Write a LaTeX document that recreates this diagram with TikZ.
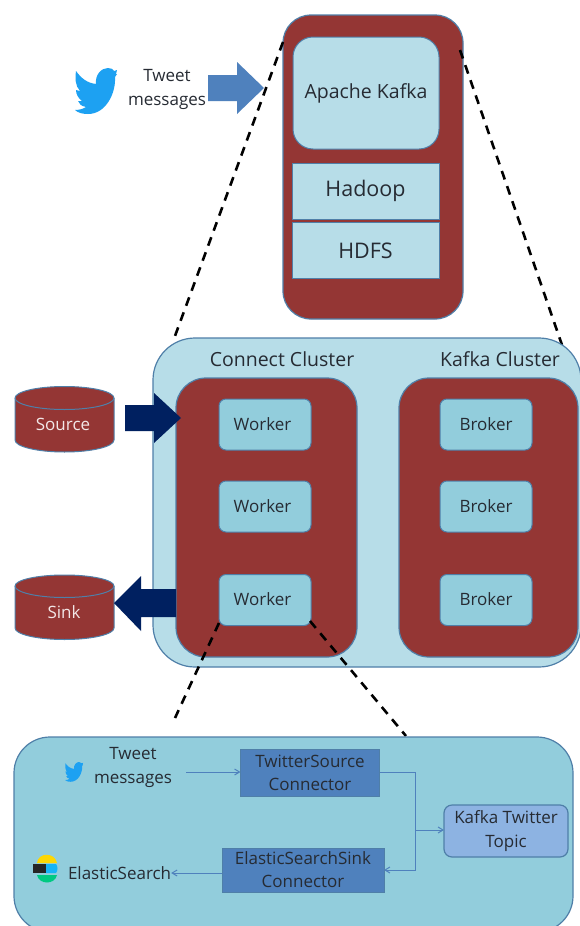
\documentclass[tikz,border=0pt]{standalone}
\usepackage{fontspec}
\setmainfont{Open Sans}
\usetikzlibrary{shapes.geometric,arrows.meta}
\definecolor{brick}{HTML}{943634}
\definecolor{edgeblue}{HTML}{4F7FA8}
\definecolor{paleblue}{HTML}{B7DDE8}
\definecolor{midblue}{HTML}{92CDDC}
\definecolor{steel}{HTML}{4F81BD}
\definecolor{navy}{HTML}{002060}
\definecolor{topicblue}{HTML}{8DB3E2}
\definecolor{twblue}{HTML}{1DA1F2}
\definecolor{txt}{HTML}{262B33}
\tikzset{
  x=1pt,y=-1pt,
  every node/.style={inner sep=0pt,outer sep=0pt,text=txt,align=center},
  panel/.style={draw=edgeblue,line width=1.2pt,rounded corners=#1},
  panel/.default=30pt,
  unitbox/.style={draw=edgeblue,line width=1pt,fill=midblue,rounded corners=7pt,minimum width=92pt,minimum height=51pt,font=\fontsize{17}{18}\selectfont},
  stackbox/.style={draw=edgeblue,line width=1pt,fill=paleblue,minimum width=147pt,minimum height=56pt,font=\fontsize{21.5}{24}\selectfont},
  connbox/.style={draw=edgeblue,line width=1pt,fill=steel,font=\fontsize{17}{23}\selectfont},
  zoomline/.style={draw=black,line width=2.6pt,dash pattern=on 9pt off 7pt},
  thinflow/.style={draw=steel,line width=1pt,-{Straight Barb[length=5pt,width=6pt]}},
  labeltext/.style={font=\fontsize{17}{24}\selectfont},
  headtext/.style={font=\fontsize{19.5}{22}\selectfont},
  drum/.style={draw=edgeblue,line width=1pt,fill=brick},
  drumtext/.style={font=\fontsize{17}{18}\selectfont,text=white!88!brick},
}
\newcommand{\birdshape}[3]{%
  \fill[twblue,shift={(#1,#2)},scale=#3]
    (1,3) .. controls (6,10) and (12,15) .. (21,16) .. controls (20,7) and (26,0) .. (33,0)
    .. controls (36,0) and (38,1) .. (39,3) -- (42,2) -- (41,6) -- (42,6) -- (40,9)
    .. controls (41,25) and (31,46) .. (13,46) .. controls (8,46) and (3,45) .. (0,42)
    .. controls (4,42) and (8,41) .. (11,39) .. controls (6,38) and (4,36) .. (3,33)
    -- (7,33) .. controls (3,30) and (1,26) .. (1,22) -- (5,23) .. controls (0,18) and (0,9) .. (1,3) -- cycle;
}
\begin{document}
\begin{tikzpicture}
\useasboundingbox (0,0) rectangle (580,926);
\fill[white] (0,0) rectangle (580,926);

% top stack
\draw[panel=28pt,fill=brick] (283,15) rectangle (463,319);
\node[draw=edgeblue,line width=1pt,fill=paleblue,rounded corners=20pt,minimum width=146pt,minimum height=112pt,font=\fontsize{19.5}{22}\selectfont] (kafka) at (366,93) {\raisebox{-2.5pt}{Apache Kafka}};
\node[stackbox] (hadoop) at (365.5,191) {\raisebox{-2pt}{Hadoop}};
\node[stackbox] (hdfs) at (365.5,250.5) {HDFS};

% tweet in
\birdshape{75}{68}{1}
\node[labeltext] (tweet) at (167,89) {Tweet\\messages};
\fill[steel] (208,75) -- (237,75) -- (237,62) -- (264,88) -- (237,114) -- (237,101) -- (208,101) -- cycle;
\coordinate (topL) at (283,42);
\coordinate (topR) at (460,50);
\coordinate (clL) at (175,336);
\coordinate (clR) at (562,345);
\path[zoomline] (topL) -- (clL);
\path[zoomline] (topR) -- (clR);

% cluster
\draw[panel=42pt,fill=paleblue] (153,338) rectangle (581,667);
\node[headtext] (cc) at (282,359) {Connect Cluster};
\node[headtext] (kc) at (500,359) {Kafka Cluster};
\draw[panel=30pt,fill=brick] (176,378) rectangle (357,657);
\draw[panel=30pt,fill=brick] (399,378) rectangle (578,657);
\node[unitbox] (w1) at (265,424.5) {\hspace*{-5pt}Worker};
\node[unitbox] (w2) at (265,506.5) {\hspace*{-5pt}Worker};
\node[unitbox] (w3) at (265,600) {\hspace*{-5pt}\raisebox{2pt}{Worker}};
\node[unitbox] (b1) at (486,424.5) {Broker};
\node[unitbox] (b2) at (486,506.5) {Broker};
\node[unitbox] (b3) at (486,600) {\raisebox{2pt}{Broker}};

% source / sink
\draw[drum] (15,398) -- (15,440) arc[start angle=180,end angle=360,x radius=49.5pt,y radius=12pt] -- (114,398) arc[start angle=0,end angle=180,x radius=49.5pt,y radius=11.5pt] -- cycle;
\draw[drum,fill=none] (15,398) arc[start angle=180,end angle=360,x radius=49.5pt,y radius=11.5pt];
\node[drumtext] (source) at (63,424) {Source};
\draw[drum] (15,586) -- (15,628) arc[start angle=180,end angle=360,x radius=49.5pt,y radius=11.5pt] -- (114,586) arc[start angle=0,end angle=180,x radius=49.5pt,y radius=11pt] -- cycle;
\draw[drum,fill=none] (15,586) arc[start angle=180,end angle=360,x radius=49.5pt,y radius=11.5pt];
\node[drumtext] (sink) at (64,612) {Sink};
\fill[navy] (125,405) -- (154,405) -- (154,393) -- (181,418) -- (154,443) -- (154,431) -- (125,431) -- cycle;
\fill[navy] (176,589) -- (141,589) -- (141,576) -- (114,603) -- (141,631) -- (141,617) -- (176,617) -- cycle;

% zoom to detail
\coordinate (wL) at (219,623);
\coordinate (wR) at (310,621);
\coordinate (dL) at (175,718);
\coordinate (dR) at (406,736);
\path[zoomline] (wL) -- (dL);
\path[zoomline] (wR) -- (dR);

% detail panel
\draw[panel=36pt,fill=midblue] (14,737) rectangle (573,932);
\birdshape{65}{762}{0.43}
\node[labeltext] (tw2) at (133,767) {Tweet\\messages};
\node[connbox,minimum width=139pt,minimum height=47pt] (tsc) at (310,773) {TwitterSource\\Connector};
\node[connbox,minimum width=162pt,minimum height=44pt] (esc) at (303,870) {ElasticSearchSink\\Connector};
\node[draw=edgeblue,line width=1.2pt,fill=topicblue,rounded corners=8pt,minimum width=124pt,minimum height=52pt,font=\fontsize{17}{24}\selectfont] (topic) at (506,831) {Kafka Twitter\\Topic};
\node[labeltext,anchor=west] (es) at (68,873) {ElasticSearch};
\coordinate (tw2e) at (186,772);
\coordinate (bend) at (415,830);
\draw[thinflow] (tw2e) -- (tsc.west |- tw2e);
\draw[draw=steel,line width=1pt] (tsc.east |- 0,772) -| (bend);
\draw[thinflow] (bend) -- (topic.west |- bend);
\draw[thinflow] (bend) |- (esc.east |- 0,870);
\draw[thinflow] (esc.west |- 0,873) -- (es.east);

% elastic logo
\fill[yellow!75!orange] (37,863) .. controls (38,852) and (55,852) .. (57,863) -- cycle;
\fill[black!85] (33,864) -- (46,864) -- (46,873) -- (33,873) -- cycle;
\fill[twblue!80!cyan] (46,864) -- (56,864) .. controls (58,866) and (58,871) .. (56,873) -- (46,873) -- cycle;
\fill[teal!60!green!70!cyan] (37,875) -- (57,875) .. controls (55,885) and (39,885) .. (37,875) -- cycle;
\end{tikzpicture}
\end{document}
